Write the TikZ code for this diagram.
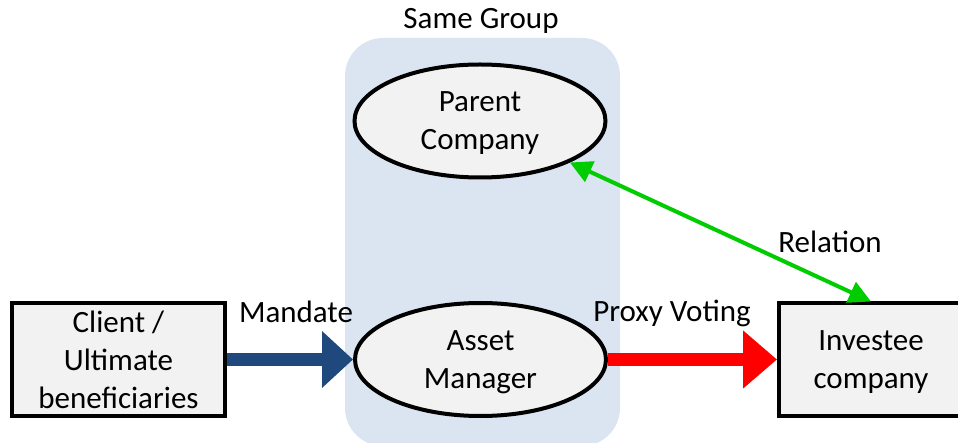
\documentclass[tikz,border=0pt]{standalone}
\usepackage{fontspec}
\setmainfont{Carlito}
\usepackage{xcolor}
\usepackage{tikz}
\usetikzlibrary{shapes.geometric, arrows.meta}

\definecolor{groupblue}{RGB}{219,229,241}
\definecolor{boxgray}{RGB}{242,242,242}
\definecolor{mandateblue}{RGB}{31,73,125}
\definecolor{relgreen}{RGB}{0,204,0}

\begin{document}
\begin{tikzpicture}[
  x=1pt, y=-1pt,
  font=\fontsize{31}{38}\selectfont,
  entity/.style={rectangle, draw, line width=4pt, fill=boxgray, minimum width=213pt, minimum height=112pt, align=center, inner sep=0pt, text depth=0pt},
  firm/.style={ellipse, draw, line width=4pt, fill=boxgray, minimum width=251pt, minimum height=113pt, align=center, inner sep=0pt, text depth=0pt},
  lbl/.style={anchor=base, inner sep=0pt},
  mandate/.style={-{Triangle[length=31pt, width=55pt]}, line width=13pt, mandateblue},
  voting/.style={-{Triangle[length=34pt, width=56pt]}, line width=12pt, red},
  relation/.style={{Triangle[length=22pt, width=22pt]}-{Triangle[length=22pt, width=22pt]}, line width=4pt, relgreen}
]
  \useasboundingbox (0,0) rectangle (958,443);
  \clip (0,0) rectangle (958,443);

  % group background
  \fill[groupblue, rounded corners=38pt] (345,38) rectangle (620,446);
  \node[lbl] (group) at (481,29) {Same Group};

  \node[firm] (parent) at (480,121) {Parent\\Company};
  \node[firm] (asset) at (480.5,359.5) {Asset\\Manager};
  \node[entity] (client) at (118.5,359.5) {Client /\\Ultimate\\beneficiaries};
  \node[entity, minimum width=184pt] (investee) at (871,359.5) {Investee\\company};

  \node[lbl] (mandatelbl) at (296,323) {Mandate};
  \node[lbl] (votinglbl) at (672,322) {Proxy Voting};
  \node[lbl] (relationlbl) at (830,253) {Relation};

  \draw[mandate] (client) -- (asset);
  \draw[voting] (asset) -- (investee);
  \draw[relation] (parent) -- (investee.north);
\end{tikzpicture}
\end{document}
